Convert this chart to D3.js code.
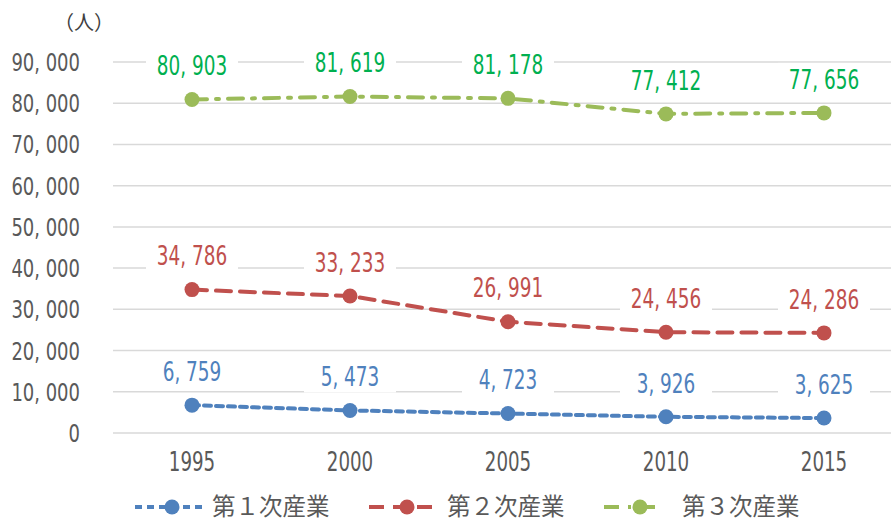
<!doctype html>
<html>
<head>
<meta charset="utf-8">
<title>産業別就業者数</title>
<script src="https://d3js.org/d3.v7.min.js"></script>
<style>
  html, body { margin: 0; background: #fff; }
  svg { display: block; }
  .num { font-family: "DejaVu Sans Condensed", "DejaVu Sans", sans-serif; }
  .jp { font-family: "Noto Sans CJK JP", sans-serif; }
</style>
</head>
<body>
<svg id="chart" width="891" height="521"></svg>
<script>
var years = ["1995", "2000", "2005", "2010", "2015"];
var primary = [6759, 5473, 4723, 3926, 3625];
var secondary = [34786, 33233, 26991, 24456, 24286];
var tertiary = [80903, 81619, 81178, 77412, 77656];
var yTicks = [0, 10000, 20000, 30000, 40000, 50000, 60000, 70000, 80000, 90000];

var series = [
  { name: "第１次産業", values: primary, line: "#4f81bd", text: "#4f81bd", dash: "7,5", legend: [135, 172, 205, 212] },
  { name: "第２次産業", values: secondary, line: "#c0504d", text: "#c0504d", dash: "15,9", legend: [369, 407, 440, 447] },
  { name: "第３次産業", values: tertiary, line: "#9bbb59", text: "#00b050", dash: "15,9,3,9", legend: [604, 640, 663, 682] }
];

var fmt = function (v) { return d3.format(",")(v).replace(",", ", "); };

var svg = d3.select("#chart");
var x = d3.scalePoint().domain(years).range([192, 824]);
var y = d3.scaleLinear().domain([0, 90000]).range([433, 62]);

// grid
svg.append("g").selectAll("line").data(yTicks).enter().append("line")
  .attr("x1", 113).attr("x2", 891)
  .attr("y1", function (d) { return y(d); }).attr("y2", function (d) { return y(d); })
  .attr("stroke", "#d9d9d9").attr("stroke-width", 1.5);

// y tick labels (narrowed)
svg.append("g").selectAll("text").data(yTicks).enter().append("text")
  .attr("class", "num")
  .attr("transform", function (d) { return "translate(80," + y(d) + ") scale(0.8,1)"; })
  .attr("dy", "0.36em").attr("text-anchor", "end")
  .attr("font-size", 25).attr("fill", "#595959")
  .text(function (d) { return d === 0 ? "0" : fmt(d); });

svg.append("text").attr("class", "jp").attr("x", 54).attr("y", 30)
  .attr("font-size", 20).attr("fill", "#404040").text("（人）");

// x tick labels
svg.append("g").selectAll("text").data(years).enter().append("text")
  .attr("class", "num")
  .attr("transform", function (d) { return "translate(" + x(d) + ",471) scale(0.78,1)"; })
  .attr("text-anchor", "middle").attr("font-size", 26).attr("fill", "#595959")
  .text(function (d) { return d; });

var line = d3.line()
  .x(function (d, i) { return x(years[i]); })
  .y(function (d) { return y(d); });

series.forEach(function (s) {
  var g = svg.append("g");
  g.append("path").datum(s.values)
    .attr("d", line).attr("fill", "none")
    .attr("stroke", s.line).attr("stroke-width", 4)
    .attr("stroke-dasharray", s.dash).attr("stroke-linecap", "round");
  g.selectAll("circle").data(s.values).enter().append("circle")
    .attr("cx", function (d, i) { return x(years[i]); })
    .attr("cy", function (d) { return y(d); })
    .attr("r", 7.5).attr("fill", s.line);

  // labels with white boxes
  var lab = g.selectAll("g.lab").data(s.values).enter().append("g")
    .attr("transform", function (d, i) { return "translate(" + x(years[i]) + "," + (y(d) - 34) + ")"; });
  lab.append("rect").attr("x", -46).attr("y", -16).attr("width", 92).attr("height", 32).attr("fill", "#fff");
  lab.append("text").attr("class", "num")
    .attr("transform", "scale(0.76,1)")
    .attr("text-anchor", "middle").attr("dy", "0.36em")
    .attr("font-size", 27).attr("fill", s.text)
    .text(function (d) { return fmt(d); });

  // legend
  var ly = 507;
  var lg = svg.append("g");
  lg.append("line").attr("x1", s.legend[0]).attr("x2", s.legend[2])
    .attr("y1", ly).attr("y2", ly)
    .attr("stroke", s.line).attr("stroke-width", 4)
    .attr("stroke-dasharray", s.dash);
  lg.append("circle").attr("cx", s.legend[1]).attr("cy", ly).attr("r", 7.5).attr("fill", s.line);
  lg.append("text").attr("class", "jp").attr("x", s.legend[3]).attr("y", ly)
    .attr("dy", "0.36em").attr("font-size", 23.5).attr("fill", "#595959").text(s.name);
});
</script>
</body>
</html>
